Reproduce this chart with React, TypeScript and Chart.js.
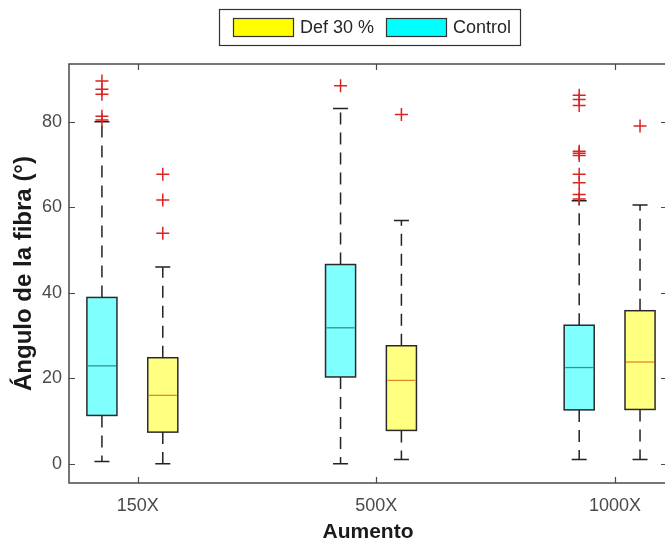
import React, { useEffect, useRef } from 'react';
import { Chart, registerables } from 'chart.js';

Chart.register(...registerables);

// ---- data ----
const categories = ['150X', '500X', '1000X'];
const categoryValues = [1, 2, 3];
const yTickValues = [0, 20, 40, 60, 80];
const seriesNames = ['Def 30 %', 'Control'];

// Control (cyan)
const controlLow = [0.5, 0, 1.0];
const controlQ1 = [11.3, 20.3, 12.6];
const controlMedian = [22.9, 31.8, 22.5];
const controlQ3 = [38.9, 46.6, 32.4];
const controlHigh = [80.0, 83.1, 61.5];
const controlOutliers = [
  [89.5, 87.6, 86.4, 81.3, 80.4],
  [88.4],
  [86.2, 85.2, 83.8, 73.1, 72.6, 72.1, 67.7, 65.7, 63.0, 61.9],
];

// Def 30 % (yellow)
const defLow = [0, 1.0, 1.0];
const defQ1 = [7.4, 7.8, 12.7];
const defMedian = [16.0, 19.5, 23.8];
const defQ3 = [24.8, 27.6, 35.8];
const defHigh = [46.0, 56.9, 60.5];
const defOutliers = [[67.7, 61.7, 53.9], [81.7], [79.0]];

// group offsets (in category units)
const controlOffset = -0.15;
const defOffset = 0.105;
const boxWidthUnits = 0.126;

const W = 680;
const H = 546;

const FONT = '"Liberation Sans", Arial, Helvetica, sans-serif';

type BoxSeries = {
  low: number[]; q1: number[]; med: number[]; q3: number[]; high: number[];
  offset: number; fill: string; medColor: string;
};

const boxSeries: BoxSeries[] = [
  { low: controlLow, q1: controlQ1, med: controlMedian, q3: controlQ3, high: controlHigh,
    offset: controlOffset, fill: '#80ffff', medColor: '#2e9595' },
  { low: defLow, q1: defQ1, med: defMedian, q3: defQ3, high: defHigh,
    offset: defOffset, fill: '#ffff80', medColor: '#e08a2c' },
];

const boxPlugin = {
  id: 'boxes',
  beforeDatasetsDraw(chart: any) {
    const { ctx, scales } = chart;
    const xs = scales.x, ys = scales.y;
    ctx.save();
    const half = (xs.getPixelForValue(1 + boxWidthUnits) - xs.getPixelForValue(1)) / 2;
    boxSeries.forEach((s) => {
      categoryValues.forEach((c, i) => {
        const cx = xs.getPixelForValue(c + s.offset);
        const yLow = ys.getPixelForValue(s.low[i]);
        const yQ1 = ys.getPixelForValue(s.q1[i]);
        const yMed = ys.getPixelForValue(s.med[i]);
        const yQ3 = ys.getPixelForValue(s.q3[i]);
        const yHigh = ys.getPixelForValue(s.high[i]);
        // whiskers
        ctx.strokeStyle = '#222';
        ctx.lineWidth = 1.5;
        ctx.setLineDash([12, 8]);
        ctx.beginPath();
        ctx.moveTo(cx, yQ3); ctx.lineTo(cx, yHigh);
        ctx.moveTo(cx, yQ1); ctx.lineTo(cx, yLow);
        ctx.stroke();
        ctx.setLineDash([]);
        // caps
        ctx.beginPath();
        ctx.moveTo(cx - half / 2, yHigh); ctx.lineTo(cx + half / 2, yHigh);
        ctx.moveTo(cx - half / 2, yLow); ctx.lineTo(cx + half / 2, yLow);
        ctx.stroke();
        // box
        ctx.fillStyle = s.fill;
        ctx.fillRect(cx - half, yQ3, half * 2, yQ1 - yQ3);
        ctx.strokeStyle = '#2a2a2a';
        ctx.lineWidth = 1.5;
        ctx.strokeRect(cx - half, yQ3, half * 2, yQ1 - yQ3);
        // median
        ctx.strokeStyle = s.medColor;
        ctx.lineWidth = 1.3;
        ctx.beginPath();
        ctx.moveTo(cx - half + 1, yMed); ctx.lineTo(cx + half - 1, yMed);
        ctx.stroke();
      });
    });
    ctx.restore();
  },
};

const framePlugin = {
  id: 'frame',
  afterDraw(chart: any) {
    const { ctx, chartArea: a, scales } = chart;
    ctx.save();
    ctx.strokeStyle = '#4a4a4a';
    ctx.lineWidth = 1.5;
    ctx.strokeRect(a.left, a.top, a.right - a.left, a.bottom - a.top);
    const tl = 6;
    ctx.beginPath();
    scales.y.ticks.forEach((t: any) => {
      const y = Math.round(scales.y.getPixelForValue(t.value)) + 0.5;
      ctx.moveTo(a.left, y); ctx.lineTo(a.left + tl, y);
      ctx.moveTo(a.right, y); ctx.lineTo(a.right - tl, y);
    });
    scales.x.ticks.forEach((t: any) => {
      const x = Math.round(scales.x.getPixelForValue(t.value)) + 0.5;
      ctx.moveTo(x, a.bottom); ctx.lineTo(x, a.bottom - tl);
      ctx.moveTo(x, a.top); ctx.lineTo(x, a.top + tl);
    });
    ctx.lineWidth = 1.2;
    ctx.stroke();
    ctx.restore();
  },
};

const legendPlugin = {
  id: 'customLegend',
  afterDraw(chart: any) {
    const { ctx } = chart;
    ctx.save();
    ctx.fillStyle = '#ffffff';
    ctx.fillRect(219, 9, 302, 37);
    ctx.strokeStyle = '#333';
    ctx.lineWidth = 1.2;
    ctx.strokeRect(219.5, 9.5, 301, 36);
    const items = [
      { label: seriesNames[0], color: '#ffff00', x: 233 },
      { label: seriesNames[1], color: '#00ffff', x: 386 },
    ];
    items.forEach((it) => {
      ctx.fillStyle = it.color;
      ctx.fillRect(it.x, 18, 61, 19);
      ctx.strokeStyle = '#333';
      ctx.lineWidth = 1.2;
      ctx.strokeRect(it.x + 0.5, 18.5, 60, 18);
      ctx.fillStyle = '#262626';
      ctx.font = `18px ${FONT}`;
      ctx.textBaseline = 'middle';
      ctx.textAlign = 'left';
      ctx.fillText(it.label, it.x + 67, 28);
    });
    ctx.restore();
  },
};

export default function App() {
  const ref = useRef<HTMLCanvasElement | null>(null);
  useEffect(() => {
    if (!ref.current) return;
    const mk = (pos: number, outs: number[][]) =>
      outs.flatMap((arr, i) => arr.map((v) => ({ x: categoryValues[i] + pos, y: v })));
    const chart = new Chart(ref.current, {
      type: 'scatter',
      data: {
        datasets: [
          {
            label: 'Control outliers',
            data: mk(controlOffset, controlOutliers),
            pointStyle: 'cross',
            radius: 6.5,
            borderColor: '#dd2222',
            backgroundColor: '#dd2222',
            borderWidth: 1.5,
          },
          {
            label: 'Def outliers',
            data: mk(defOffset, defOutliers),
            pointStyle: 'cross',
            radius: 6.5,
            borderColor: '#dd2222',
            backgroundColor: '#dd2222',
            borderWidth: 1.5,
          },
        ],
      },
      options: {
        responsive: false,
        animation: false,
        devicePixelRatio: 1,
        layout: { padding: { top: 64, right: W - 667, left: 0, bottom: 0 } },
        plugins: { legend: { display: false }, tooltip: { enabled: false } },
        scales: {
          x: {
            type: 'linear',
            min: 0.712,
            max: 3.218,
            afterBuildTicks: (s: any) => { s.ticks = categoryValues.map((v) => ({ value: v })); },
            afterFit: (s: any) => { s.height = H - 483; },
            grid: { display: false, drawTicks: false },
            border: { display: false },
            ticks: {
              autoSkip: false,
              maxRotation: 0,
              padding: 12,
              color: '#4a4a4a',
              font: { family: FONT, size: 18 },
              callback: (v: any) => categories[categoryValues.indexOf(Number(v))] ?? '',
            },
            title: {
              display: true,
              text: 'Aumento',
              color: '#1a1a1a',
              font: { family: FONT, size: 21, weight: 'bold' },
              padding: { top: 0, bottom: 1 },
            },
          },
          y: {
            type: 'linear',
            min: -4.5,
            max: 93.5,
            afterBuildTicks: (s: any) => { s.ticks = yTickValues.map((v) => ({ value: v })); },
            afterFit: (s: any) => { s.width = 69; },
            grid: { display: false, drawTicks: false },
            border: { display: false },
            ticks: {
              padding: 7,
              color: '#4a4a4a',
              font: { family: FONT, size: 18 },
            },
            title: {
              display: true,
              text: 'Ángulo de la fibra (°)',
              color: '#1a1a1a',
              font: { family: FONT, size: 24, weight: 'bold' },
              padding: { top: 10, bottom: 0 },
            },
          },
        },
      },
      plugins: [boxPlugin, framePlugin, legendPlugin],
    } as any);
    return () => chart.destroy();
  }, []);
  return (
    <div style={{ position: 'fixed', left: 0, top: 0, width: 665, height: 546, overflow: 'hidden', background: '#fff' }}>
      <canvas ref={ref} width={W} height={H} style={{ width: W, height: H, display: 'block' }} />
    </div>
  );
}
